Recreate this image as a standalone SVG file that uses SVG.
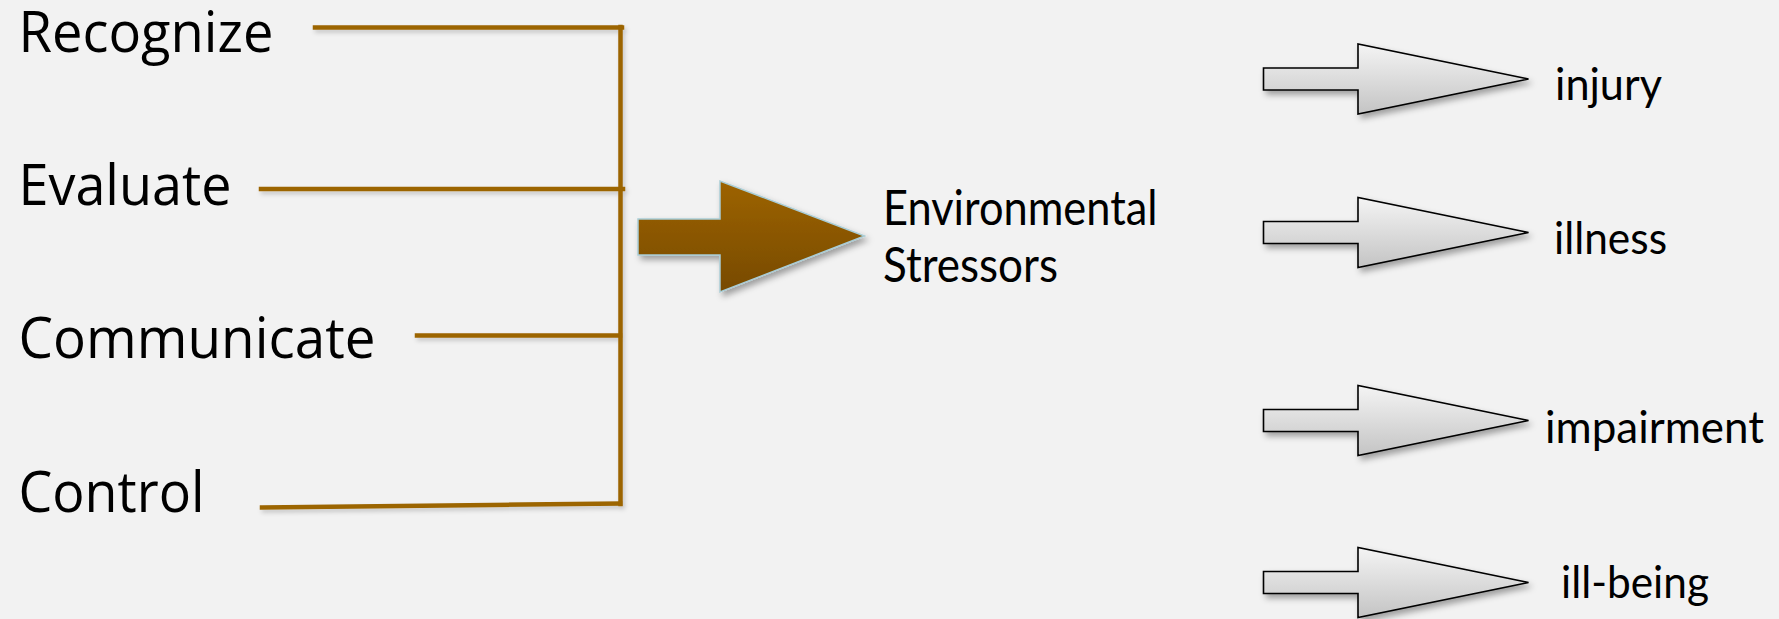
<svg xmlns="http://www.w3.org/2000/svg" width="1779" height="619" viewBox="0 0 1779 619">
<defs>
<style>
.lbl{font-family:"Open Sans","Liberation Sans",sans-serif;font-size:57px;fill:#000}
.gs{font-family:Lato,"Liberation Sans",sans-serif;fill:#000}
.ln{stroke:#9c6500;stroke-width:4.5;fill:none;stroke-linecap:square}
.garrow{fill:url(#gg);stroke:#000;stroke-width:1.6}
</style>
<linearGradient id="gg" x1="0" y1="0" x2="0" y2="1">
<stop offset="0" stop-color="#f4f4f4"/>
<stop offset="1" stop-color="#c4c4c4"/>
</linearGradient>
<linearGradient id="bg" x1="0" y1="0" x2="0" y2="1">
<stop offset="0" stop-color="#9d6300"/>
<stop offset="1" stop-color="#774a00"/>
</linearGradient>
<filter id="sh" x="-10%" y="-20%" width="130%" height="150%">
<feDropShadow dx="3" dy="4" stdDeviation="3" flood-color="#000" flood-opacity="0.35"/>
</filter>
<filter id="lsh" x="-5%" y="-50%" width="110%" height="300%">
<feDropShadow dx="2" dy="3" stdDeviation="2" flood-color="#000" flood-opacity="0.18"/>
</filter>
<path id="ga" d="M0,-11 L94.5,-11 L94.5,-35 L265,0 L94.5,35 L94.5,11 L0,11 Z"/>
</defs>
<rect width="1779" height="619" fill="#f2f2f2"/>

<g id="connectors" filter="url(#lsh)">
<line class="ln" x1="315" y1="27.5" x2="622" y2="27.5"/>
<line class="ln" x1="261" y1="189" x2="623" y2="189"/>
<line class="ln" x1="417" y1="335.5" x2="620" y2="335.5"/>
<line class="ln" x1="262" y1="507.5" x2="620" y2="503.5"/>
<line class="ln" x1="620.5" y1="27" x2="620.5" y2="504"/>
</g>

<g id="recognize"><text class="lbl" x="18.5" y="52" textLength="255" lengthAdjust="spacingAndGlyphs">Recognize</text></g>
<g id="evaluate"><text class="lbl" x="18.5" y="205" textLength="213" lengthAdjust="spacingAndGlyphs">Evaluate</text></g>
<g id="communicate"><text class="lbl" x="18.5" y="358" textLength="357" lengthAdjust="spacingAndGlyphs">Communicate</text></g>
<g id="control"><text class="lbl" x="18.5" y="512" textLength="186" lengthAdjust="spacingAndGlyphs">Control</text></g>

<g id="main-arrow">
<path d="M638,219 L720,219 L720,181 L864.5,236 L720,292 L720,255 L638,255 Z" fill="url(#bg)" stroke="#a9cdd6" stroke-width="1.5" filter="url(#sh)"/>
</g>

<g id="environmental-stressors">
<text class="gs" font-size="48" x="883" y="225" textLength="274.5" lengthAdjust="spacingAndGlyphs">Environmental</text>
<text class="gs" font-size="48" x="883" y="281.5" textLength="175" lengthAdjust="spacingAndGlyphs">Stressors</text>
</g>

<g id="injury">
<use href="#ga" class="garrow" transform="translate(1263.5,79)" filter="url(#sh)"/>
<text class="gs" font-size="44" x="1555" y="100" textLength="107" lengthAdjust="spacingAndGlyphs">injury</text>
</g>
<g id="illness">
<use href="#ga" class="garrow" transform="translate(1263.5,232.5)" filter="url(#sh)"/>
<text class="gs" font-size="44" x="1554" y="254" textLength="113" lengthAdjust="spacingAndGlyphs">illness</text>
</g>
<g id="impairment">
<use href="#ga" class="garrow" transform="translate(1263.5,420.5)" filter="url(#sh)"/>
<text class="gs" font-size="44" x="1545" y="443" textLength="219" lengthAdjust="spacingAndGlyphs">impairment</text>
</g>
<g id="ill-being">
<use href="#ga" class="garrow" transform="translate(1263.5,582.5)" filter="url(#sh)"/>
<text class="gs" font-size="44" x="1561" y="598" textLength="148" lengthAdjust="spacingAndGlyphs">ill-being</text>
</g>
</svg>
